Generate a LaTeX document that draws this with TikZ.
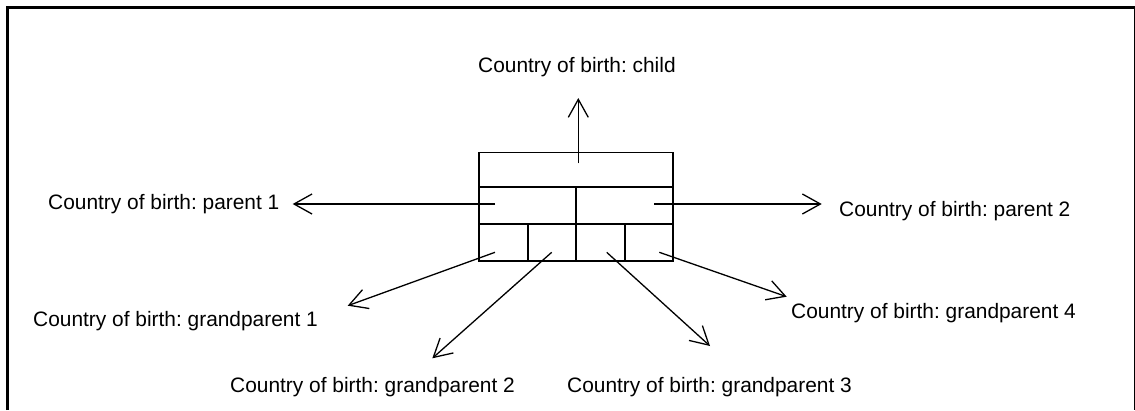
\documentclass[tikz,border=0pt]{standalone}
\usepackage{fontspec}
\setmainfont{Liberation Sans}
\usetikzlibrary{arrows.meta}
\frenchspacing
\begin{document}
\begin{tikzpicture}[x=1pt,y=-1pt,
  lbl/.style={anchor=base west,inner sep=0pt,font=\fontsize{20.9}{25}\selectfont\frenchspacing},
  cellline/.style={line width=1.6pt},
  conn/.style={line width=1.3pt,-{Straight Barb[length=18pt,width=20pt,line width=1.3pt]}},
  frame/.style={line width=2.4pt}]
\useasboundingbox (0,0) rectangle (1135,410);
% frame
\draw[frame] (7.3,410) -- (7.3,7.3) -- (1135,7.3);
\draw[line width=1pt] (1134,7.3) -- (1134,410);
% box cells
\node[cellline,draw,minimum width=193.7pt,minimum height=34.4pt,inner sep=0pt] (c) at (575.85,169.5) {};
\node[cellline,draw,minimum width=97pt,minimum height=37pt,inner sep=0pt] (p1) at (527.5,205.2) {};
\node[cellline,draw,minimum width=96.7pt,minimum height=37pt,inner sep=0pt] (p2) at (624.35,205.2) {};
\node[cellline,draw,minimum width=49pt,minimum height=37pt,inner sep=0pt] (g1) at (503.5,242.2) {};
\node[cellline,draw,minimum width=48pt,minimum height=37pt,inner sep=0pt] (g2) at (552,242.2) {};
\node[cellline,draw,minimum width=49pt,minimum height=37pt,inner sep=0pt] (g3) at (600.5,242.2) {};
\node[cellline,draw,minimum width=47.7pt,minimum height=37pt,inner sep=0pt] (g4) at (648.85,242.2) {};
% labels
\node[lbl] (tc)  at (478,72) {Country of birth: child};
\node[lbl] (tp1) at (48,209) {Country of birth: parent 1};
\node[lbl] (tp2) at (839,216) {Country of birth: parent 2};
\node[lbl] (tg1) at (33,326) {Country of birth: grandparent 1};
\node[lbl] (tg2) at (230,392.5) {Country of birth: grandparent 2};
\node[lbl] (tg3) at (567,392.5) {Country of birth: grandparent 3};
\node[lbl] (tg4) at (791,318) {Country of birth: grandparent 4};
% connector ends
\coordinate (sc) at (578.3,163.3);
\coordinate (ec) at (578.3,98);
\coordinate (sp1) at (495,204);
\coordinate (ep1) at (292.7,204);
\coordinate (sp2) at (654,204);
\coordinate (ep2) at (821.7,204);
\coordinate (sg1) at (495,252.3);
\coordinate (eg1) at (347.7,305.7);
\coordinate (sg2) at (551.7,252.3);
\coordinate (eg2) at (432.3,358.3);
\coordinate (sg3) at (606.7,252.3);
\coordinate (eg3) at (710,346);
\coordinate (sg4) at (659.3,252.3);
\coordinate (eg4) at (786.7,296.7);
\draw[conn] (sc) -- (ec);
\draw[conn] (sp1) -- (ep1);
\draw[conn] (sp2) -- (ep2);
\draw[conn] (sg1) -- (eg1);
\draw[conn] (sg2) -- (eg2);
\draw[conn] (sg3) -- (eg3);
\draw[conn] (sg4) -- (eg4);
\end{tikzpicture}
\end{document}
